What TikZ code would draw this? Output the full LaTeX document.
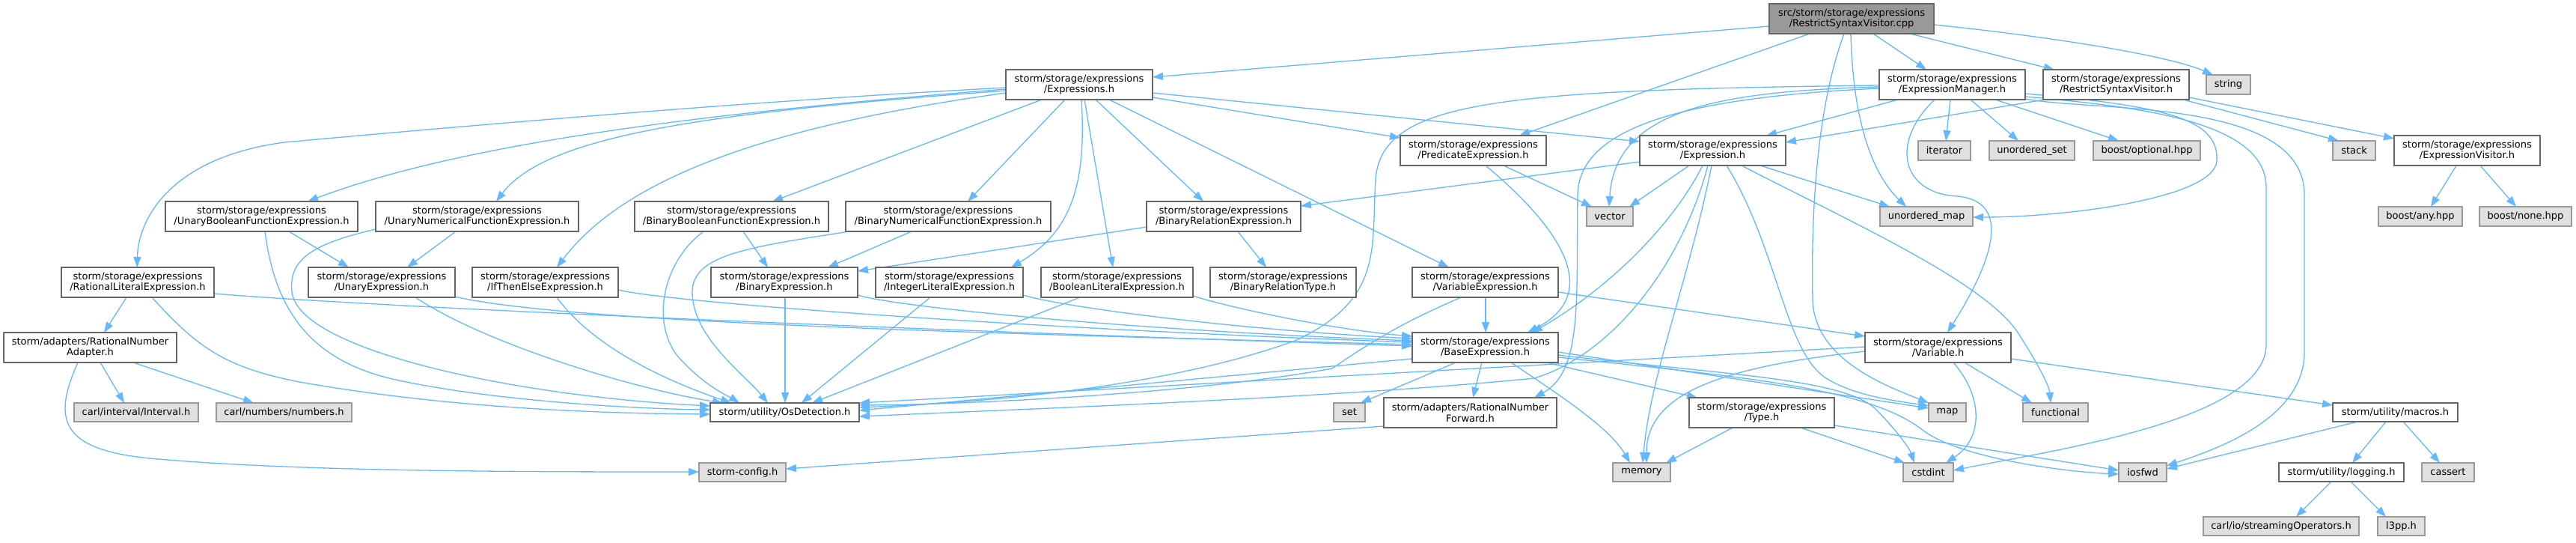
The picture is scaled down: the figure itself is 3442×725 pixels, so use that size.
\documentclass[tikz,border=0pt]{standalone}
\usepackage{fontspec}
\setmainfont{DejaVu Sans}
\usetikzlibrary{arrows.meta}
\definecolor{edgec}{HTML}{63B8FF}
\definecolor{bord}{HTML}{666666}
\definecolor{gbord}{HTML}{999999}
\definecolor{gfill}{HTML}{E0E0E0}
\definecolor{rootfill}{HTML}{999999}
\pgfdeclarelayer{back}
\pgfdeclarelayer{edges}
\pgfsetlayers{back,edges,main}
\newcommand\nbox[7]{\node[#6, minimum width={(#4)-(#2)}, minimum height={(#5)-(#3)}] (#1) at ({((#2)+(#4))/2},{((#3)+(#5))/2}) {#7};}
\tikzset{
  basebox/.style={inner sep=0pt, outer sep=0pt, line width=1.2pt, align=center, text=black, font=\fontsize{13pt}{14.5pt}\selectfont},
  wbox/.style={basebox, draw=bord, fill=white},
  gbox/.style={basebox, draw=gbord, fill=gfill},
  rootbox/.style={basebox, draw=bord, fill=rootfill},
  dep/.style={draw=edgec, line width=1.3pt, -{Triangle[length=14pt,width=10pt]}}
}
\begin{document}
\begin{tikzpicture}[x=1pt,y=-1pt]
\useasboundingbox (0,0) rectangle (3442,725);
\begin{pgfonlayer}{back}
\fill[white] (0,0) rectangle (3442,725);
\end{pgfonlayer}

\nbox{cpp}{2364}{5}{2584}{45}{rootbox}{src/storm/storage/expressions\\/RestrictSyntaxVisitor.cpp}
\nbox{exprs}{1344}{93}{1540}{133}{wbox}{storm/storage/expressions\\/Expressions.h}
\nbox{em}{2511}{93}{2706}{133}{wbox}{storm/storage/expressions\\/ExpressionManager.h}
\nbox{rsvh}{2730}{93}{2925}{133}{wbox}{storm/storage/expressions\\/RestrictSyntaxVisitor.h}
\nbox{string}{2948}{100}{3007}{126}{gbox}{string}
\nbox{pred}{1871}{181}{2066}{221}{wbox}{storm/storage/expressions\\/PredicateExpression.h}
\nbox{expr}{2191}{181}{2386}{221}{wbox}{storm/storage/expressions\\/Expression.h}
\nbox{iterator}{2563}{188}{2633}{214}{gbox}{iterator}
\nbox{uset}{2658}{188}{2772}{214}{gbox}{unordered\_set}
\nbox{bopt}{2797}{188}{2940}{214}{gbox}{boost/optional.hpp}
\nbox{stack}{3117}{188}{3174}{214}{gbox}{stack}
\nbox{exprvis}{3199}{181}{3394}{221}{wbox}{storm/storage/expressions\\/ExpressionVisitor.h}
\nbox{ubool}{221}{269}{478}{309}{wbox}{storm/storage/expressions\\/UnaryBooleanFunctionExpression.h}
\nbox{unum}{502}{269}{773}{309}{wbox}{storm/storage/expressions\\/UnaryNumericalFunctionExpression.h}
\nbox{bbool}{848}{269}{1107}{309}{wbox}{storm/storage/expressions\\/BinaryBooleanFunctionExpression.h}
\nbox{bnum}{1130}{269}{1404}{309}{wbox}{storm/storage/expressions\\/BinaryNumericalFunctionExpression.h}
\nbox{brel}{1532}{269}{1738}{309}{wbox}{storm/storage/expressions\\/BinaryRelationExpression.h}
\nbox{vector}{2120}{276}{2182}{302}{gbox}{vector}
\nbox{umap}{2512}{276}{2636}{302}{gbox}{unordered\_map}
\nbox{bany}{3178}{276}{3290}{302}{gbox}{boost/any.hpp}
\nbox{bnone}{3313}{276}{3436}{302}{gbox}{boost/none.hpp}
\nbox{ratlit}{82}{357}{286}{397}{wbox}{storm/storage/expressions\\/RationalLiteralExpression.h}
\nbox{unary}{412}{357}{608}{397}{wbox}{storm/storage/expressions\\/UnaryExpression.h}
\nbox{ite}{631}{357}{826}{397}{wbox}{storm/storage/expressions\\/IfThenElseExpression.h}
\nbox{binary}{950}{357}{1146}{397}{wbox}{storm/storage/expressions\\/BinaryExpression.h}
\nbox{intlit}{1170}{357}{1367}{397}{wbox}{storm/storage/expressions\\/IntegerLiteralExpression.h}
\nbox{boollit}{1391}{357}{1594}{397}{wbox}{storm/storage/expressions\\/BooleanLiteralExpression.h}
\nbox{breltype}{1617}{357}{1812}{397}{wbox}{storm/storage/expressions\\/BinaryRelationType.h}
\nbox{varexpr}{1887}{357}{2082}{397}{wbox}{storm/storage/expressions\\/VariableExpression.h}
\nbox{ratadapter}{5}{444}{236}{484}{wbox}{storm/adapters/RationalNumber\\Adapter.h}
\nbox{base}{1887}{444}{2082}{484}{wbox}{storm/storage/expressions\\/BaseExpression.h}
\nbox{variable}{2492}{444}{2687}{484}{wbox}{storm/storage/expressions\\/Variable.h}
\nbox{interval}{99}{538}{265}{563}{gbox}{carl/interval/Interval.h}
\nbox{numbers}{289}{538}{470}{563}{gbox}{carl/numbers/numbers.h}
\nbox{osdet}{949}{538}{1148}{563}{wbox}{storm/utility/OsDetection.h}
\nbox{set}{1782}{538}{1824}{563}{gbox}{set}
\nbox{rnfwd}{1849}{531}{2080}{571}{wbox}{storm/adapters/RationalNumber\\Forward.h}
\nbox{type}{2257}{531}{2451}{571}{wbox}{storm/storage/expressions\\/Type.h}
\nbox{map}{2577}{538}{2627}{563}{gbox}{map}
\nbox{functional}{2703}{538}{2790}{563}{gbox}{functional}
\nbox{macros}{3117}{538}{3284}{563}{wbox}{storm/utility/macros.h}
\nbox{config}{934}{618}{1050}{643}{gbox}{storm-config.h}
\nbox{memory}{2155}{618}{2232}{643}{gbox}{memory}
\nbox{cstdint}{2543}{618}{2610}{643}{gbox}{cstdint}
\nbox{iosfwd}{2831}{618}{2895}{643}{gbox}{iosfwd}
\nbox{logging}{3045}{618}{3212}{643}{wbox}{storm/utility/logging.h}
\nbox{cassert}{3236}{618}{3306}{643}{gbox}{cassert}
\nbox{streamops}{2944}{690}{3152}{715}{gbox}{carl/io/streamingOperators.h}
\nbox{l3pp}{3177}{690}{3240}{715}{gbox}{l3pp.h}

\begin{pgfonlayer}{edges}
% RestrictSyntaxVisitor.cpp
\draw[dep] (cpp.west |- 0,35) -- (exprs.east |- 0,103);
\draw[dep] (cpp.south -| 2418,0) -- (pred.north -| 2030,0);
\draw[dep] (cpp.south -| 2464,0) .. controls (2425,150) and (2420,300) .. (2422,400) .. controls (2424,480) and (2520,515) .. (map.north west);
\draw[dep] (cpp.south -| 2473,0) .. controls (2476,170) and (2505,235) .. (umap.north -| 2547,0);
\draw[dep] (cpp.south -| 2503,0) -- (em.north -| 2574,0);
\draw[dep] (cpp.south -| 2552,0) -- (rsvh.north -| 2745,0);
\draw[dep] (cpp.east |- 0,33) .. controls (2750,50) and (2900,75) .. (string.north -| 2957,0);
% Expressions.h
\draw[dep] (exprs.west |- 0,117) .. controls (1000,135) and (600,170) .. (380,190) .. controls (230,210) and (185,290) .. (ratlit.north -| 183,0);
\draw[dep] (exprs.west |- 0,119) .. controls (950,150) and (620,190) .. (ubool.north -| 411,0);
\draw[dep] (exprs.west |- 0,121) .. controls (950,150) and (730,180) .. (unum.north -| 663,0);
\draw[dep] (exprs.west |- 0,124) .. controls (1050,165) and (840,230) .. (ite.north -| 744,0);
\draw[dep] (exprs.south -| 1392,0) -- (bbool.north -| 1032,0);
\draw[dep] (exprs.south -| 1423,0) -- (bnum.north -| 1293,0);
\draw[dep] (exprs.south -| 1445,0) .. controls (1452,250) and (1430,310) .. (intlit.north -| 1351,0);
\draw[dep] (exprs.south -| 1449,0) -- (boollit.north -| 1487,0);
\draw[dep] (exprs.south -| 1464,0) -- (brel.north -| 1608,0);
\draw[dep] (exprs.south -| 1482,0) -- (varexpr.north -| 1936,0);
\draw[dep] (exprs.east |- 0,124) -- (expr.west |- 0,189);
\draw[dep] (exprs.east |- 0,130) -- (pred.west |- 0,184);
% ExpressionManager.h
\draw[dep] (em.south -| 2536,0) -- (expr.north -| 2360,0);
\draw[dep] (em.west |- 0,116) .. controls (2300,122) and (2158,145) .. (vector.north -| 2150,0);
\draw[dep] (em.west |- 0,114) .. controls (2000,120) and (1845,135) .. (1838,240) .. controls (1832,330) and (1850,400) .. (1730,455) .. controls (1550,520) and (1300,538) .. (osdet.east |- 0,544);
\draw[dep] (em.west |- 0,118) .. controls (2250,130) and (2110,170) .. (2108,260) .. controls (2106,400) and (2115,495) .. (rnfwd.north -| 2050,0);
\draw[dep] (em.south -| 2606,0) -- (iterator.north -| 2600,0);
\draw[dep] (em.south -| 2633,0) -- (uset.north -| 2697,0);
\draw[dep] (em.south -| 2666,0) -- (bopt.north -| 2831,0);
\draw[dep] (em.south -| 2585,0) .. controls (2525,190) and (2540,258) .. (2615,262) .. controls (2685,268) and (2668,340) .. (variable.north -| 2602,0);
\draw[dep] (em.east |- 0,125) .. controls (2900,142) and (2965,160) .. (2962,215) .. controls (2958,265) and (2760,290) .. (umap.east |- 0,290);
\draw[dep] (em.east |- 0,129) .. controls (2850,142) and (3028,160) .. (3028,250) -- (3028,460) .. controls (3028,560) and (2750,600) .. (cstdint.east |- 0,628);
\draw[dep] (em.east |- 0,132) .. controls (2800,150) and (3079,130) .. (3079,260) -- (3079,470) .. controls (3079,560) and (2960,600) .. (iosfwd.east |- 0,622);
% RestrictSyntaxVisitor.h
\draw[dep] (rsvh.south -| 2732,0) -- (expr.east |- 0,190);
\draw[dep] (rsvh.south -| 2917,0) -- (stack.north -| 3125,0);
\draw[dep] (rsvh.east |- 0,130) -- (exprvis.west |- 0,185);
% ExpressionVisitor.h
\draw[dep] (exprvis.south -| 3282,0) -- (bany.north -| 3248,0);
\draw[dep] (exprvis.south -| 3314,0) -- (bnone.north -| 3362,0);
% PredicateExpression.h
\draw[dep] (pred.south -| 2009,0) -- (vector.north -| 2127,0);
\draw[dep] (pred.south -| 1985,0) .. controls (2080,300) and (2145,390) .. (base.north -| 2041,0);
% Expression.h
\draw[dep] (expr.south -| 2257,0) -- (vector.north -| 2177,0);
\draw[dep] (expr.south -| 2275,0) .. controls (2235,300) and (2150,385) .. (base.north -| 2047,0);
\draw[dep] (expr.south -| 2282,0) .. controls (2245,360) and (2150,475) .. (2050,505) .. controls (1800,530) and (1400,545) .. (osdet.east |- 0,556);
\draw[dep] (expr.south -| 2287,0) .. controls (2255,380) and (2205,500) .. (memory.north -| 2195,0);
\draw[dep] (expr.south -| 2307,0) .. controls (2375,330) and (2385,470) .. (2440,505) .. controls (2480,530) and (2540,536) .. (map.west |- 0,542);
\draw[dep] (expr.south -| 2327,0) .. controls (2480,300) and (2660,380) .. (2700,450) .. controls (2725,490) and (2738,515) .. (functional.north -| 2740,0);
\draw[dep] (expr.south -| 2352,0) -- (umap.north -| 2525,0);
\draw[dep] (expr.west |- 0,216) -- (brel.east |- 0,275);
% BinaryRelationExpression.h
\draw[dep] (brel.west |- 0,303) -- (binary.east |- 0,362);
\draw[dep] (brel.south -| 1654,0) -- (breltype.north -| 1692,0);
% Unary function expressions
\draw[dep] (ubool.south -| 386,0) -- (unary.north -| 466,0);
\draw[dep] (ubool.south -| 354,0) .. controls (368,420) and (420,480) .. (520,505) .. controls (650,535) and (850,546) .. (osdet.west |- 0,547);
\draw[dep] (unum.south -| 609,0) -- (unary.north -| 544,0);
\draw[dep] (unum.west |- 0,306) .. controls (420,325) and (385,345) .. (390,390) .. controls (400,470) and (700,530) .. (osdet.west |- 0,542);
% Binary function expressions
\draw[dep] (bbool.south -| 993,0) -- (binary.north -| 1026,0);
\draw[dep] (bbool.south -| 940,0) .. controls (885,350) and (870,430) .. (905,475) .. controls (940,515) and (975,530) .. (osdet.north -| 988,0);
\draw[dep] (bnum.south -| 1218,0) -- (binary.north -| 1106,0);
\draw[dep] (bnum.south -| 1135,0) .. controls (1000,330) and (925,340) .. (925,390) .. controls (925,450) and (995,500) .. (osdet.north -| 1026,0);
% row of expressions
\draw[dep] (ratlit.south -| 169,0) -- (ratadapter.north -| 139,0);
\draw[dep] (ratlit.east |- 0,392) .. controls (500,410) and (1200,440) .. (base.west |- 0,462);
\draw[dep] (ratlit.south -| 203,0) .. controls (265,465) and (300,490) .. (400,510) .. controls (600,545) and (800,552) .. (osdet.west |- 0,553);
\draw[dep] (unary.east |- 0,396) .. controls (750,430) and (1300,445) .. (base.west |- 0,460);
\draw[dep] (unary.south -| 555,0) .. controls (650,460) and (850,520) .. (osdet.north -| 966,0);
\draw[dep] (ite.east |- 0,387) .. controls (900,405) and (1400,440) .. (base.west |- 0,457);
\draw[dep] (ite.south -| 744,0) .. controls (790,460) and (880,505) .. (osdet.north -| 977,0);
\draw[dep] (binary.east |- 0,394) .. controls (1200,410) and (1500,440) .. (base.west |- 0,455);
\draw[dep] (binary.south -| 1049,0) -- (osdet.north -| 1049,0);
\draw[dep] (intlit.east |- 0,394) .. controls (1420,410) and (1650,440) .. (base.west |- 0,452);
\draw[dep] (intlit.south -| 1243,0) -- (osdet.north -| 1071,0);
\draw[dep] (boollit.east |- 0,395) .. controls (1640,410) and (1780,440) .. (base.west |- 0,449);
\draw[dep] (boollit.south -| 1443,0) -- (osdet.north -| 1085,0);
\draw[dep] (varexpr.south -| 1985,0) -- (base.north -| 1985,0);
\draw[dep] (varexpr.south -| 1952,0) .. controls (1900,420) and (1855,440) .. (1780,492) .. controls (1600,525) and (1300,540) .. (osdet.east |- 0,541);
\draw[dep] (varexpr.east |- 0,390) -- (variable.west |- 0,449);
% BaseExpression.h
\draw[dep] (base.west |- 0,479) -- (osdet.east |- 0,548);
\draw[dep] (base.south -| 1945,0) -- (set.north -| 1818,0);
\draw[dep] (base.south -| 1980,0) -- (rnfwd.north -| 1968,0);
\draw[dep] (base.south -| 2019,0) .. controls (2080,525) and (2150,570) .. (memory.north -| 2178,0);
\draw[dep] (base.south -| 2066,0) -- (type.north -| 2268,0);
\draw[dep] (base.east |- 0,470) -- (map.west |- 0,545);
\draw[dep] (base.east |- 0,474) .. controls (2300,500) and (2460,505) .. (2505,545) .. controls (2535,575) and (2552,600) .. (cstdint.north -| 2558,0);
\draw[dep] (base.east |- 0,477) .. controls (2350,505) and (2500,520) .. (2570,575) .. controls (2620,612) and (2760,630) .. (iosfwd.west |- 0,633);
% Variable.h
\draw[dep] (variable.west |- 0,463) -- (osdet.east |- 0,538);
\draw[dep] (variable.west |- 0,469) .. controls (2300,490) and (2200,525) .. (memory.north -| 2200,0);
\draw[dep] (variable.south -| 2610,0) .. controls (2650,530) and (2650,585) .. (cstdint.north -| 2600,0);
\draw[dep] (variable.south -| 2625,0) -- (functional.north -| 2715,0);
\draw[dep] (variable.east |- 0,479) -- (macros.west |- 0,541);
% others
\draw[dep] (rnfwd.west |- 0,569) -- (config.east |- 0,626);
\draw[dep] (ratadapter.south -| 134,0) -- (interval.north -| 166,0);
\draw[dep] (ratadapter.south -| 178,0) -- (numbers.north -| 339,0);
\draw[dep] (ratadapter.south -| 104,0) .. controls (70,560) and (80,600) .. (200,612) .. controls (400,630) and (700,630) .. (config.west |- 0,630);
\draw[dep] (type.south -| 2315,0) -- (memory.north -| 2226,0);
\draw[dep] (type.south -| 2406,0) -- (cstdint.north -| 2545,0);
\draw[dep] (type.east |- 0,568) -- (iosfwd.west |- 0,628);
\draw[dep] (macros.south -| 3150,0) -- (iosfwd.east |- 0,626);
\draw[dep] (macros.south -| 3188,0) -- (logging.north -| 3143,0);
\draw[dep] (macros.south -| 3211,0) -- (cassert.north -| 3260,0);
\draw[dep] (logging.south -| 3115,0) -- (streamops.north -| 3068,0);
\draw[dep] (logging.south -| 3141,0) -- (l3pp.north -| 3188,0);
\end{pgfonlayer}
\end{tikzpicture}
\end{document}
